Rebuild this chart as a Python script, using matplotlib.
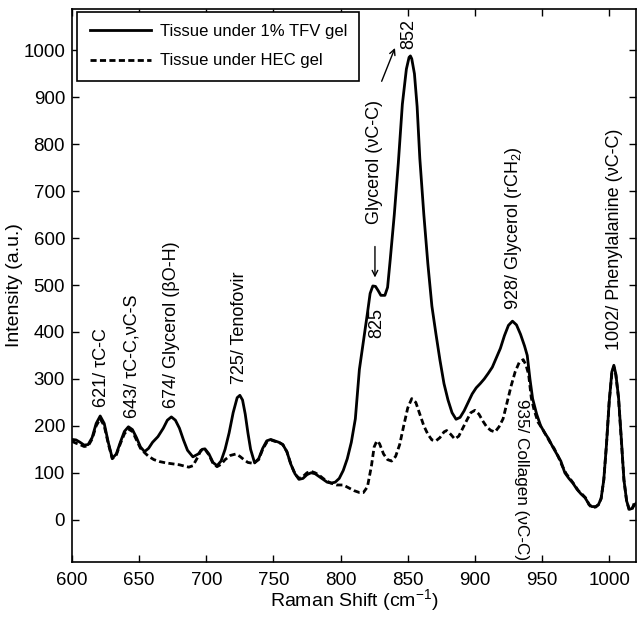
import numpy as np
import matplotlib
matplotlib.use('Agg')
import matplotlib.pyplot as plt

plt.rcParams['font.family'] = ['Liberation Sans', 'DejaVu Sans']
plt.rcParams['mathtext.fontset'] = 'custom'
plt.rcParams['mathtext.rm'] = 'Liberation Sans'
plt.rcParams['mathtext.it'] = 'Liberation Sans'

# solid: tissue under 1% TFV gel
tfv_x = [600, 603, 606, 609, 612, 615, 618, 621, 624, 627, 630, 633, 636, 639, 642, 645, 648, 651, 654, 657,
         660, 664, 668, 671, 674, 677, 680, 683, 686, 690, 694, 697, 699, 702, 705, 708, 711, 714, 717, 720,
         723, 725, 727, 729, 731, 733, 736, 739, 742, 745, 748, 751, 754, 757, 760, 763, 766, 769, 772, 775,
         778, 781, 784, 787, 790, 793, 796, 799, 802, 805, 808, 811, 814, 817, 820, 822, 824, 826, 828, 830,
         833, 835, 837, 840, 843, 846, 849, 851, 852, 853, 855, 857, 859, 862, 865, 868, 871, 874, 877, 880,
         883, 886, 889, 892, 895, 898, 901, 904, 907, 910, 913, 916, 919, 922, 925, 928, 931, 934, 937, 939,
         941, 943, 946, 949, 952, 955, 958, 961, 964, 967, 970, 973, 976, 979, 982, 985, 987, 990, 992, 994,
         996, 998, 1000, 1002, 1003.5, 1005, 1007, 1009, 1011, 1013, 1015, 1017, 1019, 1020]
tfv_y = [171, 170, 165, 159, 160, 175, 205, 221, 205, 165, 131, 140, 165, 188, 198, 192, 175, 155, 145, 152,
         165, 177, 195, 212, 219, 212, 195, 170, 148, 134, 140, 150, 151, 140, 122, 115, 125, 150, 185, 228,
         260, 265, 255, 225, 185, 150, 121, 130, 152, 168, 171, 168, 165, 160, 145, 118, 98, 86, 88, 96,
         100, 98, 92, 86, 80, 78, 80, 88, 105, 130, 165, 215, 320, 380, 440, 482, 498, 497, 488, 478,
         478, 495, 555, 650, 760, 885, 960, 985, 988, 982, 950, 880, 770, 650, 545, 455, 396, 340, 290, 255,
         228, 214, 218, 232, 250, 268, 281, 290, 300, 312, 325, 345, 365, 392, 414, 423, 415, 395, 370, 350,
         300, 258, 225, 200, 185, 172, 155, 140, 125, 100, 88, 78, 65, 55, 47, 33, 28, 28, 32, 45,
         85, 160, 250, 315, 329, 310, 260, 175, 85, 40, 22, 24, 32, 35]

# dashed: tissue under HEC gel
hec_x = [600, 603, 606, 609, 612, 615, 618, 621, 624, 627, 630, 633, 636, 639, 642, 645, 648, 651, 654, 657,
         661, 665, 670, 675, 680, 684, 687, 690, 693, 696, 699, 702, 705, 708, 711, 714, 718, 722, 725, 728,
         731, 735, 739, 742, 745, 748, 751, 754, 757, 760, 763, 766, 769, 772, 775, 778, 781, 784, 787, 790,
         793, 797, 802, 806, 810, 814, 817, 820, 823, 825, 827, 829, 832, 835, 838, 841, 844, 847, 850, 853,
         856, 859, 862, 865, 868, 871, 874, 877, 879, 882, 885, 888, 891, 894, 897, 900, 903, 906, 909, 912,
         915, 918, 921, 924, 927, 930, 933, 936, 938, 940, 942, 944, 947, 950, 953, 956, 959, 962, 965, 968,
         971, 974, 977, 980, 983, 985, 987, 990, 992, 994, 996, 998, 1000, 1002, 1003.5, 1005, 1007, 1009, 1011, 1013,
         1015, 1017, 1019, 1020]
hec_y = [167, 163, 160, 156, 157, 172, 200, 215, 200, 162, 130, 138, 162, 183, 193, 188, 170, 152, 143, 135,
         128, 124, 121, 119, 117, 114, 112, 115, 130, 148, 150, 138, 120, 113, 118, 128, 137, 140, 135, 128,
         122, 120, 128, 150, 165, 170, 167, 165, 160, 145, 118, 98, 88, 92, 100, 103, 100, 95, 88, 82,
         78, 74, 74, 68, 62, 58, 58, 70, 115, 155, 168, 162, 140, 128, 125, 135, 160, 200, 238, 258,
         250, 225, 200, 182, 170, 168, 175, 187, 190, 182, 172, 178, 195, 212, 228, 233, 225, 210, 197, 190,
         187, 198, 215, 250, 285, 315, 335, 341, 330, 310, 260, 235, 208, 195, 180, 165, 152, 135, 115, 98,
         87, 75, 62, 54, 45, 32, 26, 27, 32, 45, 85, 160, 250, 312, 326, 308, 258, 172, 85, 40,
         20, 22, 38, 40]

fig = plt.figure(figsize=(6.44, 6.24), dpi=100)
ax = fig.add_axes([0.1118, 0.0994, 0.8758, 0.8862])

ax.plot(tfv_x, tfv_y, 'k-', lw=2.0, label='Tissue under 1% TFV gel')
ax.plot(hec_x, hec_y, 'k--', lw=2.0, dashes=(2.2, 1.2), label='Tissue under HEC gel')

ax.set_xlim(600, 1020)
ax.set_ylim(-90, 1088)
ax.set_xticks(np.arange(600, 1001, 50))
ax.set_yticks(np.arange(0, 1001, 100))
ax.tick_params(direction='in', top=True, right=True, labelsize=13.5, length=5, width=1)
ax.tick_params(axis='x', pad=7)
ax.tick_params(axis='y', pad=5)
for s in ax.spines.values():
    s.set_linewidth(1.2)
ax.set_xlabel('Raman Shift (cm$^{-1}$)', fontsize=14, labelpad=-1)
ax.set_ylabel('Intensity (a.u.)', fontsize=14, labelpad=0)

fs = 13
ax.text(622, 240, '621/ τC-C', rotation=90, ha='center', va='bottom', fontsize=fs)
ax.text(644.5, 217, '643/ τC-C,νC-S', rotation=90, ha='center', va='bottom', fontsize=fs)
ax.text(674, 238, '674/ Glycerol (βO-H)', rotation=90, ha='center', va='bottom', fontsize=fs)
ax.text(725, 290, '725/ Tenofovir', rotation=90, ha='center', va='bottom', fontsize=fs)
ax.text(825.6, 630, 'Glycerol (νC-C)', rotation=90, ha='center', va='bottom', fontsize=fs)
ax.text(827, 452, '825', rotation=90, ha='center', va='top', fontsize=fs)
ax.text(851, 1002, '852', rotation=90, ha='center', va='bottom', fontsize=fs)
ax.text(929, 446, '928/ Glycerol (rCH$_2$)', rotation=90, ha='center', va='bottom', fontsize=fs)
ax.text(935, 258, '935/ Collagen (νC-C)', rotation=-90, ha='center', va='top', fontsize=12.3)
ax.text(1004, 361, '1002/ Phenylalanine (νC-C)', rotation=90, ha='center', va='bottom', fontsize=fs)

ax.annotate('', xy=(825.6, 516), xytext=(825.6, 582),
            arrowprops=dict(arrowstyle='->', lw=1, color='k', shrinkA=0, shrinkB=0))
ax.annotate('', xy=(840.5, 1005), xytext=(830.6, 934),
            arrowprops=dict(arrowstyle='->', lw=1, color='k', shrinkA=0, shrinkB=0))

leg = ax.legend(loc='upper left', bbox_to_anchor=(0.009, 0.995), borderaxespad=0,
                fontsize=12, handlelength=3.7, handletextpad=0.5, labelspacing=0.85,
                borderpad=0.75, fancybox=False, edgecolor='k', framealpha=1)
leg.get_frame().set_linewidth(1.2)

fig.savefig('out.png', dpi=100)
